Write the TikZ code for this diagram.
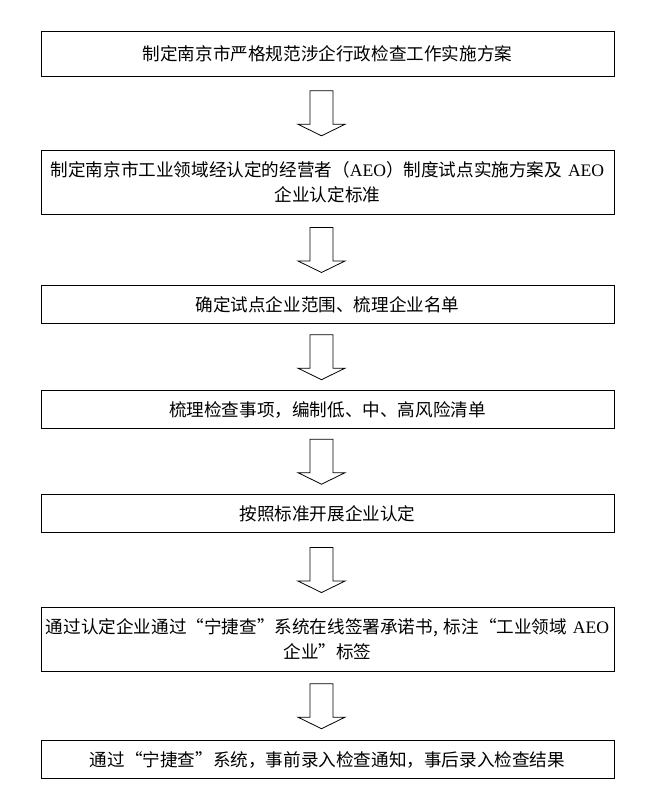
\documentclass[tikz,border=0pt]{standalone}
\usepackage{fontspec}
\setmainfont{Noto Sans CJK SC}
\newfontfamily\latin{Liberation Serif}
\usetikzlibrary{positioning,calc}
\begin{document}
\begin{tikzpicture}[x=1pt, y=1pt, line width=0.8pt,
    box/.style = {draw, text width=566pt, inner xsep=3.5pt, inner ysep=0pt, outer sep=0pt, align=center,
                  font=\fontsize{17.6}{25}\selectfont},
    flow/.pic = {\draw (-11.5,22.5) -- (11.5,22.5) -- (11.5,-11) -- (23.5,-11) -- (0,-22.5)
                       -- (-23.5,-11) -- (-11.5,-11) -- cycle;}]
        \useasboundingbox (0,0) rectangle (657,-808);
        \node[box, minimum height=45pt] (1) at (327.5,-53.8) {制定南京市严格规范涉企行政检查工作实施方案};
        \node[box, minimum height=64pt] (2) [below=74pt of 1] {制定南京市工业领域经认定的经营者（{\latin AEO}）制度试点实施方案及 {\latin AEO}\\企业认定标准};
        \node[box, minimum height=38pt] (3) [below=71.4pt of 2] {确定试点企业范围、梳理企业名单};
        \node[box, minimum height=38pt] (4) [below=67pt of 3] {梳理检查事项，编制低、中、高风险清单};
        \node[box, minimum height=38pt] (5) [below=66pt of 4] {按照标准开展企业认定};
        \node[box, minimum height=64.3pt] (6) [below=74.7pt of 5] {通过认定企业通过“宁捷查”系统在线签署承诺书, 标注“工业领域 {\latin AEO}\\企业”标签};
        \node[box, minimum height=38pt] (7) [below=69pt of 6] {通过“宁捷查”系统，事前录入检查通知，事后录入检查结果};
        \pic at ($(1.south)!0.5!(2.north)+(-6,0)$) {flow};
        \pic at ($(2.south)!0.5!(3.north)+(-6,0)$) {flow};
        \pic at ($(3.south)!0.5!(4.north)+(-6,0)$) {flow};
        \pic at ($(4.south)!0.5!(5.north)+(-6,0)$) {flow};
        \pic at ($(5.south)!0.5!(6.north)+(-6,0)$) {flow};
        \pic at ($(6.south)!0.5!(7.north)+(-6,0)$) {flow};
    \end{tikzpicture}
\end{document}
